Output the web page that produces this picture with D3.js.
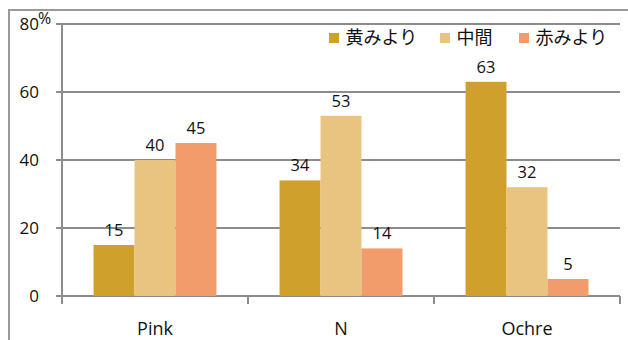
<!DOCTYPE html>
<html>
<head>
  <meta charset='utf-8'>
  <title>Chart</title>
  <script src='https://cdn.jsdelivr.net/npm/d3@7'></script>
  <style>
    body { margin: 0; background: #fff; }
  </style>
</head>
<body>
  <script>
    const categories = ['Pink', 'N', 'Ochre'];
    const seriesNames = ['黄みより', '中間', '赤みより'];
    const yellowish = [15, 34, 63];
    const middle = [40, 53, 32];
    const reddish = [45, 14, 5];
    const yTicks = [0, 20, 40, 60, 80];
    const colors = ['#d0a02c', '#e9c480', '#f29b6b'];

    const values = [yellowish, middle, reddish];
    const width = 628, height = 340;
    const plot = { left: 62, right: 620, top: 24, bottom: 296 };
    const numFont = "'Open Sans', 'Noto Sans', sans-serif";
    const jpFont = "'Noto Sans CJK JP', sans-serif";

    const svg = d3.select('body').append('svg')
      .attr('width', width)
      .attr('height', height);

    // outer frame
    svg.append('path')
      .attr('d', `M9,${height} V10 H${width}`)
      .attr('fill', 'none')
      .attr('stroke', '#999')
      .attr('stroke-width', 2);

    const x0 = d3.scaleBand().domain(categories).range([plot.left, plot.right]);
    const x1 = d3.scaleBand().domain(seriesNames)
      .range([0, x0.bandwidth()])
      .paddingInner(0).paddingOuter(0.77);
    const y = d3.scaleLinear().domain([0, 80]).range([plot.bottom, plot.top]);

    // gridlines
    svg.append('g')
      .selectAll('line')
      .data(yTicks)
      .join('line')
      .attr('x1', plot.left - 6)
      .attr('x2', plot.right)
      .attr('y1', d => y(d))
      .attr('y2', d => y(d))
      .attr('stroke', '#8c8c8c')
      .attr('stroke-width', 2);

    // y axis line
    svg.append('line')
      .attr('x1', plot.left).attr('x2', plot.left)
      .attr('y1', plot.top).attr('y2', plot.bottom + 8)
      .attr('stroke', '#8c8c8c')
      .attr('stroke-width', 2);

    // category boundary ticks
    const bounds = categories.map(c => x0(c)).concat([plot.right]);
    svg.append('g')
      .selectAll('line')
      .data(bounds.slice(1))
      .join('line')
      .attr('x1', d => d).attr('x2', d => d)
      .attr('y1', plot.bottom).attr('y2', plot.bottom + 8)
      .attr('stroke', '#8c8c8c')
      .attr('stroke-width', 2);

    // y tick labels
    svg.append('g')
      .attr('font-family', numFont)
      .attr('font-size', 17)
      .attr('fill', '#111')
      .selectAll('text')
      .data(yTicks)
      .join('text')
      .attr('x', 39)
      .attr('y', d => y(d) + 6)
      .attr('text-anchor', 'end')
      .text(d => d);

    svg.append('text')
      .attr('x', 38)
      .attr('y', y(80))
      .attr('font-family', numFont)
      .attr('font-size', 16)
      .attr('fill', '#111')
      .text('%');

    // bars
    const groups = svg.append('g')
      .selectAll('g')
      .data(categories)
      .join('g')
      .attr('transform', c => `translate(${x0(c)},0)`);

    const cells = groups.selectAll('g')
      .data((c, i) => seriesNames.map((s, j) => ({ s, j, v: values[j][i] })))
      .join('g');

    cells.append('rect')
      .attr('x', d => x1(d.s))
      .attr('width', x1.bandwidth())
      .attr('y', d => y(d.v))
      .attr('height', d => y(0) - y(d.v))
      .attr('fill', d => colors[d.j]);

    cells.append('text')
      .attr('x', d => x1(d.s) + x1.bandwidth() / 2)
      .attr('y', d => y(d.v) - 9)
      .attr('text-anchor', 'middle')
      .attr('font-family', numFont)
      .attr('font-size', 16.5)
      .attr('fill', '#111')
      .text(d => d.v);

    // category labels
    svg.append('g')
      .attr('font-family', numFont)
      .attr('font-size', 18)
      .attr('fill', '#111')
      .selectAll('text')
      .data(categories)
      .join('text')
      .attr('x', c => x0(c) + x0.bandwidth() / 2)
      .attr('y', 335)
      .attr('text-anchor', 'middle')
      .text(c => c);

    // legend
    const legendX = [329, 440, 519];
    const legend = svg.append('g')
      .selectAll('g')
      .data(seriesNames)
      .join('g')
      .attr('transform', (d, i) => `translate(${legendX[i]},38)`);

    legend.append('rect')
      .attr('x', 0).attr('y', -5)
      .attr('width', 10).attr('height', 10)
      .attr('fill', (d, i) => colors[i]);

    legend.append('text')
      .attr('x', 16.5)
      .attr('dy', '0.36em')
      .attr('font-family', jpFont)
      .attr('font-size', 18)
      .attr('fill', '#111')
      .text(d => d);
  </script>
</body>
</html>
